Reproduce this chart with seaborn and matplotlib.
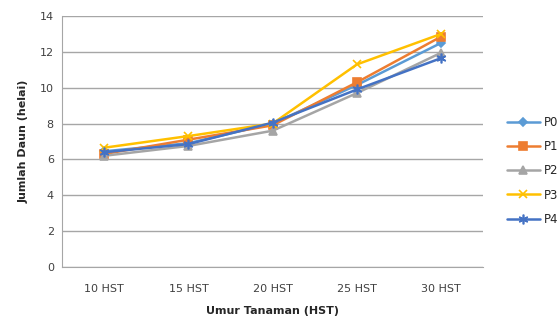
import matplotlib
matplotlib.use("Agg")
import matplotlib.pyplot as plt
import seaborn as sns
import pandas as pd

categories = ["10 HST", "15 HST", "20 HST", "25 HST", "30 HST"]
P0 = [6.45, 6.9, 8.0, 10.15, 12.5]
P1 = [6.3, 7.1, 7.9, 10.3, 12.85]
P2 = [6.2, 6.75, 7.6, 9.7, 11.95]
P3 = [6.65, 7.3, 8.0, 11.3, 13.0]
P4 = [6.4, 6.85, 8.05, 9.9, 11.65]
series_names = ["P0", "P1", "P2", "P3", "P4"]
yticks = [0, 2, 4, 6, 8, 10, 12, 14]

series = dict(zip(series_names, [P0, P1, P2, P3, P4]))
rows = []
for name, vals in series.items():
    for i, (c, v) in enumerate(zip(categories, vals)):
        rows.append({"pos": i, "cat": c, "value": v, "series": name})
df = pd.DataFrame(rows)

colors = {"P0": "#5B9BD5", "P1": "#ED7D31", "P2": "#A5A5A5", "P3": "#FFC000", "P4": "#4472C4"}
markers = {"P0": "D", "P1": "s", "P2": "^", "P3": "x", "P4": (6, 2, 0)}
msizes = {"P0": 4.5, "P1": 6, "P2": 5.5, "P3": 6, "P4": 7}

sns.set_style("white")
plt.rcParams["font.family"] = ["DejaVu Sans"]
fig = plt.figure(figsize=(5.6, 3.2), dpi=100)
ax = fig.add_axes([0.111, 0.166, 0.752, 0.784])

for name in series_names:
    sub = df[df["series"] == name]
    sns.lineplot(data=sub, x="pos", y="value", ax=ax, color=colors[name],
                 marker=markers[name], markersize=msizes[name], linewidth=1.8,
                 markeredgecolor=colors[name], markeredgewidth=1.2, label=name)

ax.set_xlim(-0.5, 4.5)
ax.set_ylim(0, 14)
ax.set_yticks(yticks)
ax.set_xticks(range(len(categories)))
ax.set_xticklabels(categories)
ax.yaxis.grid(True, color="#A6A6A6", linewidth=1)
ax.xaxis.grid(False)
for s in ["top", "right"]:
    ax.spines[s].set_visible(False)
ax.spines["left"].set_color("#A6A6A6")
ax.spines["bottom"].set_color("#A6A6A6")
ax.tick_params(axis="y", labelsize=8, colors="#404040", length=0, pad=6)
ax.tick_params(axis="x", labelsize=8, colors="#404040", length=0, pad=12)
ax.set_xlabel("Umur Tanaman (HST)", fontsize=8, fontweight="bold", color="#262626", labelpad=9)
ax.set_ylabel("Jumlah Daun (helai)", fontsize=8, fontweight="bold", color="#262626", labelpad=8)

leg = ax.legend(loc="center left", bbox_to_anchor=(1.03, 0.383), frameon=False,
                fontsize=8.5, handlelength=2.8, labelspacing=0.95, handletextpad=0.4)
fig.savefig("out.png", dpi=100)
